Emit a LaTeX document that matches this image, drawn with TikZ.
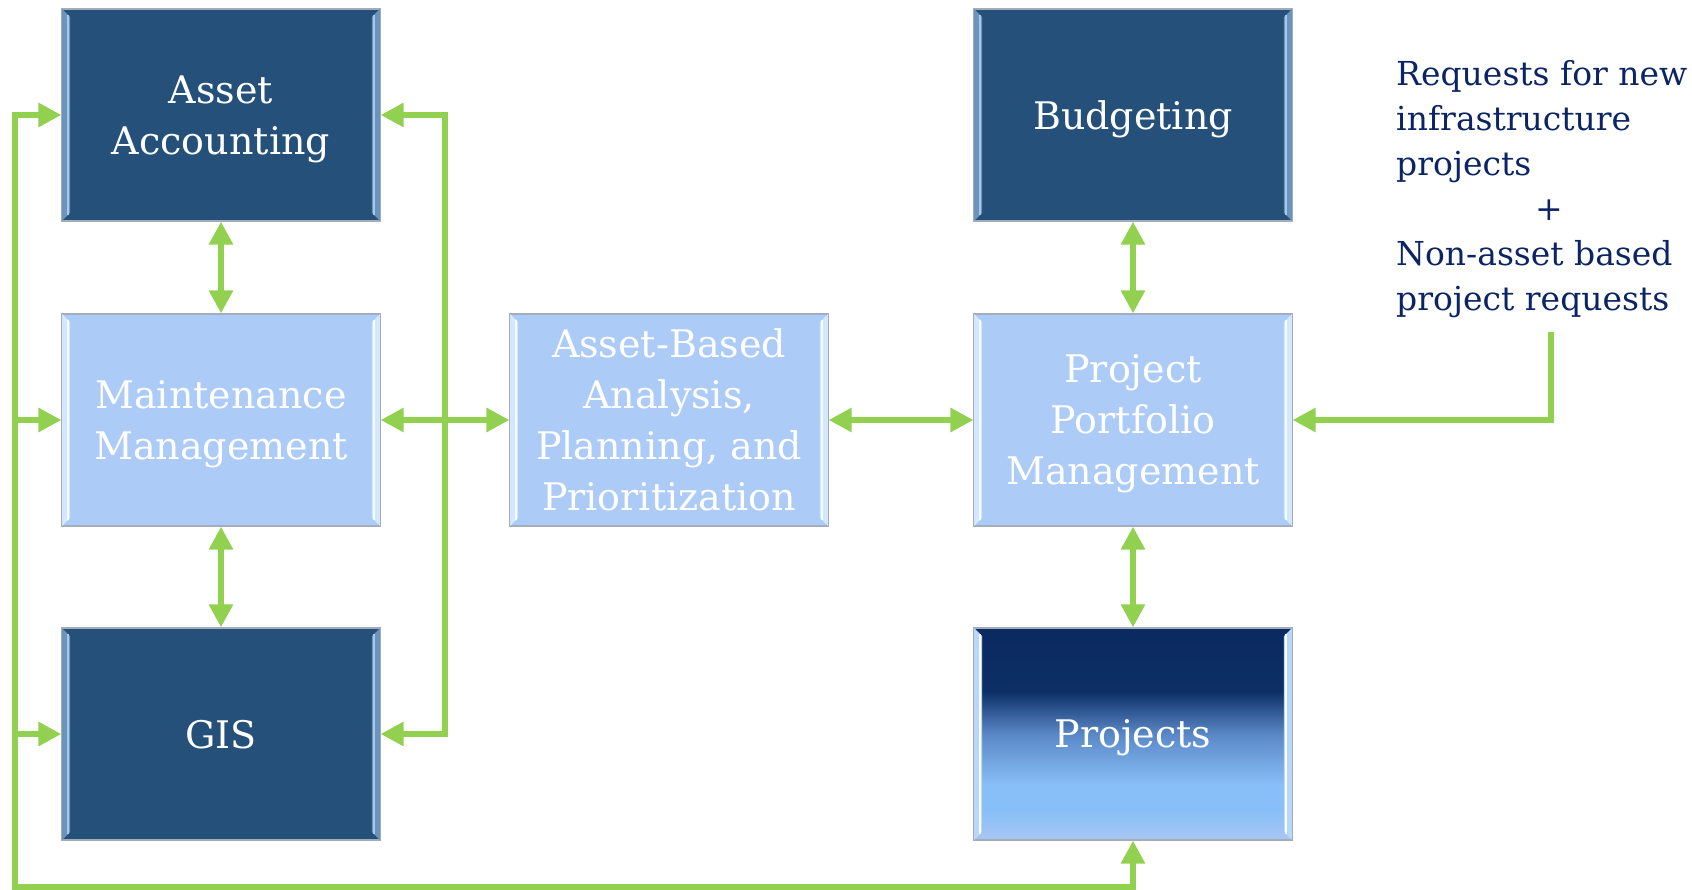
\documentclass[tikz,border=0pt]{standalone}
\usepackage{fontspec}
\setmainfont{DejaVu Serif}
\usetikzlibrary{arrows.meta,calc}
\definecolor{grn}{HTML}{92D050}
\definecolor{dkblue}{HTML}{24507A}
\definecolor{ltblue}{HTML}{ADCBF7}
\definecolor{navy}{HTML}{0B2463}
\definecolor{bevdk}{HTML}{6B94BD}
\definecolor{bevdkln}{HTML}{A9C8E6}
\definecolor{bevlt}{HTML}{D3E7FD}
\definecolor{bevltln}{HTML}{F6FBFF}
\definecolor{edgec}{HTML}{A3ADBA}
\definecolor{pb}{HTML}{A8C6F2}
\definecolor{pl}{HTML}{88BFF9}
\definecolor{pm}{HTML}{5A88C6}
\definecolor{pd}{HTML}{0C2F66}
\definecolor{pt}{HTML}{0A2A60}
\pgfdeclareverticalshading{projshade}{100bp}{color(0bp)=(pb); color(25bp)=(pb); color(32bp)=(pl); color(38bp)=(pl); color(50bp)=(pm); color(60bp)=(pd); color(75bp)=(pt); color(100bp)=(pt)}
\newcommand\boxbevel[3]{%
  \fill[#2] ($(#1.north west)+(0.7,0.7)$) -- ++(8,8) -- ($(#1.south west)+(8.7,-8.7)$) -- ++(-8,8) -- cycle;
  \fill[#2] ($(#1.north east)+(-0.7,0.7)$) -- ++(-8,8) -- ($(#1.south east)+(-8.7,-8.7)$) -- ++(8,8) -- cycle;
  \draw[#3, line width=1.5pt] ($(#1.north west)+(6.5,7)$) -- ($(#1.south west)+(6.5,-7)$);
  \draw[#3, line width=1.5pt] ($(#1.north east)+(-6.5,7)$) -- ($(#1.south east)+(-6.5,-7)$);
}
\tikzset{
  box/.style={minimum width=318pt, minimum height=212pt, inner sep=0pt, draw=edgec, line width=1.2pt,
    text=white, font=\fontsize{38}{51}\selectfont, align=center, text depth=0pt},
  dark/.style={box, fill=dkblue},
  light/.style={box, fill=ltblue},
  conn/.style={draw=grn, line width=6pt},
  arr/.style={conn, -{Triangle[length=23pt,width=23pt]}},
  darr/.style={conn, {Triangle[length=23pt,width=23pt]}-{Triangle[length=23pt,width=23pt]}},
}
\begin{document}
\begin{tikzpicture}[x=1pt,y=-1pt]
\useasboundingbox (0,0) rectangle (1692,890);
\node[dark] (aa) at (221,115) {Asset\\Accounting};
\node[light] (mm) at (221,420) {Maintenance\\Management};
\node[dark] (gis) at (221,734) {GIS};
\node[light] (ab) at (669,420) {Asset-Based\\Analysis,\\Planning, and\\Prioritization};
\node[dark] (bud) at (1133,115) {Budgeting};
\node[light] (ppm) at (1133,420) {Project\\Portfolio\\Management};
\node[box, shade, shading=projshade] (proj) at (1133,734) {Projects};
\boxbevel{aa}{bevdk}{bevdkln}
\boxbevel{gis}{bevdk}{bevdkln}
\boxbevel{bud}{bevdk}{bevdkln}
\boxbevel{mm}{bevlt}{bevltln}
\boxbevel{ab}{bevlt}{bevltln}
\boxbevel{ppm}{bevlt}{bevltln}
\boxbevel{proj}{pl!60!white}{white}
\node[anchor=north west, align=left, inner sep=0pt, text=navy, font=\fontsize{33}{45}\selectfont] (req) at (1396,60)
  {Requests for new\\infrastructure\\projects\\\hspace*{139pt}+\\Non-asset based\\project requests};
\coordinate (lx) at (15,0);
\coordinate (rx) at (445,0);
\coordinate (by) at (0,887);
\coordinate (rq) at (1551,332);
% vertical links
\draw[darr] (aa) -- (mm);
\draw[darr] (mm) -- (gis);
\draw[darr] (bud) -- (ppm);
\draw[darr] (ppm) -- (proj);
% horizontal links
\draw[darr] (mm) -- (ab);
\draw[darr] (ab) -- (ppm);
% right loop
\draw[darr] (aa.east) -- (aa.east -| rx) |- (gis.east);
% left bus
\draw[arr] (gis.west -| lx) |- (aa.west);
\draw[arr] (gis.west -| lx) |- (proj.south |- by) -- (proj.south);
\draw[arr] (mm.west -| lx) -- (mm.west);
\draw[arr] (gis.west -| lx) -- (gis.west);
% requests
\draw[arr] (rq) |- (ppm.east);
\end{tikzpicture}
\end{document}
